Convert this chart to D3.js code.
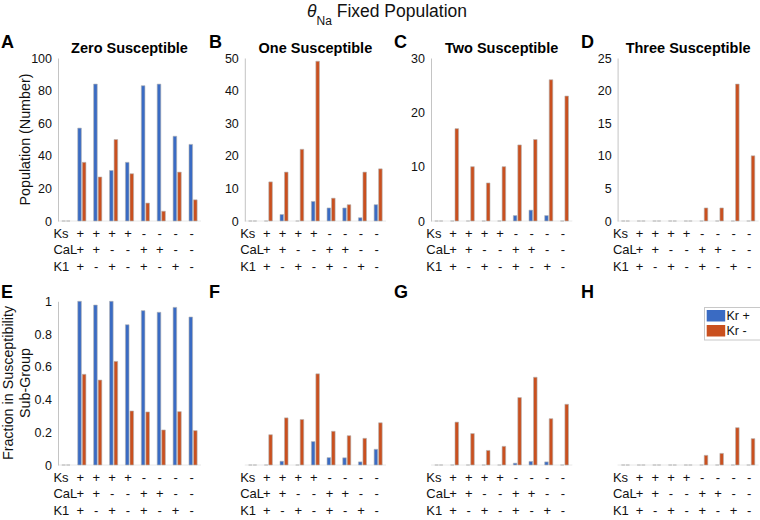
<!DOCTYPE html>
<html>
<head>
<meta charset="utf-8">
<script src="https://cdn.jsdelivr.net/npm/d3@7"></script>
<style>
  html, body { margin: 0; padding: 0; background: #fff; }
  svg { display: block; font-family: "Liberation Sans", Arial, Helvetica, sans-serif; }
</style>
</head>
<body>
<svg id="chart" width="760" height="520"></svg>
<script>
// ---------------- DATA ----------------
const ksLabels  = ["Ks",  "+", "+", "+", "+", "-", "-", "-", "-"];
const calLabels = ["CaL", "+", "+", "-", "-", "+", "+", "-", "-"];
const k1Labels  = ["K1",  "+", "-", "+", "-", "+", "-", "+", "-"];
const seriesNames = ["Kr +", "Kr -"];
const panelTitles = ["Zero Susceptible", "One Susceptible", "Two Susceptible", "Three Susceptible"];
const panelLetters = ["A", "B", "C", "D", "E", "F", "G", "H"];

// Population counts
const zeroKrPlus   = [0, 57, 84, 31, 36, 83, 84, 52, 47];
const zeroKrMinus  = [0, 36, 27, 50, 29, 11,  6, 30, 13];
const oneKrPlus    = [0,  0,  2,  0,  6,  4,  4,  1,  5];
const oneKrMinus   = [0, 12, 15, 22, 49,  7,  5, 15, 16];
const twoKrPlus    = [0,  0,  0,  0,  0,  1,  2,  1,  0];
const twoKrMinus   = [0, 17, 10,  7, 10, 14, 15, 26, 23];
const threeKrPlus  = [0,  0,  0,  0,  0,  0,  0,  0,  0];
const threeKrMinus = [0,  0,  0,  0,  0,  2,  2, 21, 10];

// Fraction in susceptibility sub-group
const fracZeroKrPlus   = [0, 1.000, 0.977, 1.000, 0.857, 0.943, 0.933, 0.963, 0.904];
const fracZeroKrMinus  = [0, 0.554, 0.519, 0.633, 0.330, 0.324, 0.214, 0.326, 0.210];
const fracOneKrPlus    = [0, 0.000, 0.023, 0.000, 0.143, 0.045, 0.044, 0.019, 0.096];
const fracOneKrMinus   = [0, 0.185, 0.288, 0.278, 0.557, 0.206, 0.179, 0.163, 0.258];
const fracTwoKrPlus    = [0, 0.000, 0.000, 0.000, 0.000, 0.011, 0.022, 0.019, 0.000];
const fracTwoKrMinus   = [0, 0.262, 0.192, 0.089, 0.114, 0.412, 0.536, 0.283, 0.371];
const fracThreeKrPlus  = [0, 0, 0, 0, 0, 0, 0, 0, 0];
const fracThreeKrMinus = [0, 0.000, 0.000, 0.000, 0.000, 0.059, 0.071, 0.228, 0.161];

// Axis tick values
const ticksZero  = [0, 20, 40, 60, 80, 100];
const ticksOne   = [0, 10, 20, 30, 40, 50];
const ticksTwo   = [0, 10, 20, 30];
const ticksThree = [0, 5, 10, 15, 20, 25];
const ticksFrac  = [0, 0.2, 0.4, 0.6, 0.8, 1];

// ---------------- LAYOUT / STYLE ----------------
const COLORS = ["#3A6BC3", "#C9501F"];
const svg = d3.select("#chart");
const cols = [{L: 58, R: 201}, {L: 244.8, R: 386}, {L: 431, R: 572.3}, {L: 617.6, R: 758.6}];
const rows = [{y0: 221, y1: 58}, {y0: 465, y1: 301.3}];

function barPath(x0, x1, yb, yt) {
  return `M${x0},${yb}V${yt}H${x1}V${yb}Z`;
}

function drawPanel(ci, ri, plus, minus, yMax, ticks, fmt, showY, title) {
  const c = cols[ci], r = rows[ri];
  const g = svg.append("g");
  const x = d3.scaleLinear().domain([-0.5, 8.5]).range([c.L, c.R]);
  const y = d3.scaleLinear().domain([0, yMax]).range([r.y0, r.y1]);

  // baseline
  g.append("line").attr("x1", c.L).attr("x2", c.R)
    .attr("y1", y(0)).attr("y2", y(0))
    .attr("stroke", "#e2e2e2").attr("stroke-width", 0.8);

  if (showY) {
    const ax = g.append("g").attr("transform", `translate(${c.L},0)`)
      .call(d3.axisLeft(y).tickValues(ticks).tickFormat(fmt).tickSize(0).tickSizeOuter(0).tickPadding(6));
    ax.select(".domain").attr("stroke", "#c4c4c4").attr("stroke-width", 1);
    ax.selectAll("text").attr("font-size", 12.5).attr("fill", "#111")
      .attr("font-family", "'Liberation Sans', Arial, Helvetica, sans-serif");
  }

  // bars
  const idx = d3.range(plus.length);
  [plus, minus].forEach((vals, s) => {
    g.append("g").selectAll("path").data(idx).join("path")
      .attr("d", i => {
        const a = s === 0 ? i - 0.257 : i + 0.029;
        const b = s === 0 ? i - 0.029 : i + 0.257;
        return barPath(x(a), x(b), y(0), y(vals[i]));
      })
      .attr("fill", COLORS[s])
      .attr("stroke", "#b4b4b4").attr("stroke-width", 0.6);
  });

  // x tick labels (3 rows)
  const labelRows = [ksLabels, calLabels, k1Labels];
  const offs = [16.8, 33.4, 50];
  labelRows.forEach((lab, k) => {
    g.append("g").selectAll("text").data(idx).join("text")
      .attr("x", i => i === 0 ? x(0) - 12.5 : x(i) - 1.5)
      .attr("y", y(0) + offs[k])
      .attr("text-anchor", i => i === 0 ? "start" : "middle")
      .attr("font-size", 13).attr("fill", "#111")
      .text(i => lab[i]);
  });

  if (title) {
    g.append("text").attr("x", (c.L + c.R) / 2).attr("y", 53)
      .attr("text-anchor", "middle").attr("font-size", 14.5).attr("font-weight", "bold")
      .attr("fill", "#000").text(title);
  }
}

const fmtInt = d3.format("d");
const fmtFrac = d => d === 0 ? "0" : d === 1 ? "1" : String(d);

drawPanel(0, 0, zeroKrPlus,  zeroKrMinus,  100, ticksZero,  fmtInt, true, panelTitles[0]);
drawPanel(1, 0, oneKrPlus,   oneKrMinus,   50,  ticksOne,   fmtInt, true, panelTitles[1]);
drawPanel(2, 0, twoKrPlus,   twoKrMinus,   30,  ticksTwo,   fmtInt, true, panelTitles[2]);
drawPanel(3, 0, threeKrPlus, threeKrMinus, 25,  ticksThree, fmtInt, true, panelTitles[3]);
drawPanel(0, 1, fracZeroKrPlus,  fracZeroKrMinus,  1, ticksFrac, fmtFrac, true,  null);
drawPanel(1, 1, fracOneKrPlus,   fracOneKrMinus,   1, ticksFrac, fmtFrac, false, null);
drawPanel(2, 1, fracTwoKrPlus,   fracTwoKrMinus,   1, ticksFrac, fmtFrac, false, null);
drawPanel(3, 1, fracThreeKrPlus, fracThreeKrMinus, 1, ticksFrac, fmtFrac, false, null);

// panel letters
const letterPos = [[1, 48], [209, 48], [394, 48], [581, 48], [1, 298], [209, 298], [394, 298], [581, 298]];
svg.append("g").selectAll("text").data(panelLetters).join("text")
  .attr("x", (d, i) => letterPos[i][0]).attr("y", (d, i) => letterPos[i][1])
  .attr("font-size", 18).attr("font-weight", "bold").attr("fill", "#000")
  .text(d => d);

// y labels
svg.append("text").attr("transform", "translate(30,139.5) rotate(-90)")
  .attr("text-anchor", "middle").attr("font-size", 14.3).attr("fill", "#111")
  .text("Population (Number)");
const yl2 = svg.append("text").attr("transform", "translate(13,383) rotate(-90)")
  .attr("text-anchor", "middle").attr("font-size", 14.3).attr("fill", "#111");
yl2.append("tspan").attr("x", 0).attr("dy", 0).text("Fraction in Susceptibility");
yl2.append("tspan").attr("x", 0).attr("dy", 17).text("Sub-Group");

// main title
const t = svg.append("text").attr("x", 307).attr("y", 17).attr("font-size", 17.5).attr("fill", "#111");
t.append("tspan").attr("font-style", "italic").text("\u03B8");
t.append("tspan").attr("font-size", 12).attr("dy", 8).text("Na");
t.append("tspan").attr("dy", -8).text(" Fixed Population");

// legend
const lg = svg.append("g");
lg.append("rect").attr("x", 704.5).attr("y", 307.5).attr("width", 60).attr("height", 32.5)
  .attr("fill", "#fff").attr("stroke", "#c8c8c8").attr("stroke-width", 1);
seriesNames.forEach((name, i) => {
  lg.append("rect").attr("x", 706.7).attr("y", 310 + i * 15).attr("width", 18.5).attr("height", 11.5)
    .attr("fill", COLORS[i]);
  lg.append("text").attr("x", 726.5).attr("y", 320 + i * 15).attr("font-size", 12.5).attr("fill", "#111")
    .text(name);
});
</script>
</body>
</html>
